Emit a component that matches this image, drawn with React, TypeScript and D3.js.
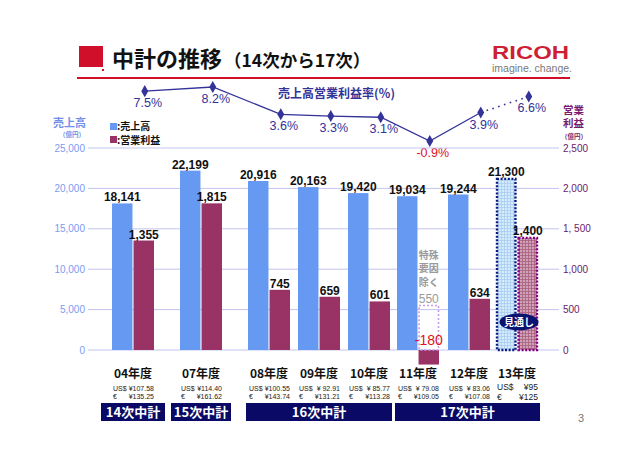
import React from "react";
import * as d3 from "d3";

const categories = ["04年度", "07年度", "08年度", "09年度", "10年度", "11年度", "12年度", "13年度"];
const sales = [18141, 22199, 20916, 20163, 19420, 19034, 19244, 21300];
const profit = [1355, 1815, 745, 659, 601, -180, 634, 1400];
const margin = [7.5, 8.2, 3.6, 3.3, 3.1, -0.9, 3.9, 6.6];
const usdRates = ["¥107.58", "¥114.40", "¥100.55", "¥ 92.91", "¥ 85.77", "¥ 79.08", "¥ 83.06", "¥95"];
const eurRates = ["¥135.25", "¥161.62", "¥143.74", "¥131.21", "¥113.28", "¥109.05", "¥107.08", "¥125"];
const forecast = [false, false, false, false, false, false, false, true];
const specialExcluded = [null, null, null, null, null, 550, null, null];
const specialNote = ["特殊", "要因", "除く"];
const leftTicks = [0, 5000, 10000, 15000, 20000, 25000];
const leftTickLabels = ["0", "5,000", "10,000", "15,000", "20,000", "25,000"];
const rightTicks = [0, 500, 1000, 1500, 2000, 2500];
const rightTickLabels = ["0", "500", "1,000", "1, 500", "2,000", "2,500"];
const periods = [
  { label: "14次中計", from: 0, to: 0 },
  { label: "15次中計", from: 1, to: 1 },
  { label: "16次中計", from: 2, to: 4 },
  { label: "17次中計", from: 5, to: 7 },
];
// layout slot of each category group (non-uniform spacing)
const slots = [0, 1.36, 2.72, 3.72, 4.72, 5.7, 6.72, 7.68];
const periodPads = [11, 9, 2, 2];

const FONT = "'Noto Sans CJK JP', 'Noto Sans', sans-serif";
const NUMFONT = "'Liberation Sans', Arial, sans-serif";

export default function App() {
  const xSlot = d3.scaleLinear().domain([0, 1]).range([112, 162]);
  const inner = d3.scaleBand<string>().domain(["sales", "profit"]).range([0, 42]).paddingInner(0.05);
  const bw = inner.bandwidth();
  const ySales = d3.scaleLinear().domain([0, 25000]).range([350, 148]);
  const yProfit = d3.scaleLinear().domain([0, 2500]).range([350, 148]);
  const yPct = d3.scaleLinear().domain([-0.9, 8.2]).range([141, 87]);

  const gx = (i: number) => xSlot(slots[i]);
  const gc = (i: number) => gx(i) + 21;
  const px = (i: number) => gx(i) + (inner("profit") as number) + bw / 2 + 1;

  const diamond = d3.symbol().type(d3.symbolDiamond).size(42)()!;
  const lineSolid = d3
    .line<number>()
    .x((_, i) => px(i))
    .y((d) => yPct(d));
  const solidData = margin.slice(0, 7);
  const dottedPts = [6, 7];

  const salesColor = "#6699f2";
  const profitColor = "#993366";
  const navy = "#333399";

  return (
    <svg width={640} height={452} style={{ position: "absolute", left: 0, top: 0, background: "#fff" }}>
      <defs>
        <pattern id="gridBlue" width="3" height="3" patternUnits="userSpaceOnUse">
          <rect width="3" height="3" fill="#d4eaff" />
          <path d="M0 0.5H3M0.5 0V3" stroke="#a9cdee" strokeWidth="0.8" />
        </pattern>
        <pattern id="gridPink" width="3" height="3" patternUnits="userSpaceOnUse">
          <rect width="3" height="3" fill="#cfa0b6" />
          <path d="M0 0.5H3M0.5 0V3" stroke="#a8607f" strokeWidth="0.8" />
        </pattern>
      </defs>

      {/* Title */}
      <rect x={79} y={46} width={24} height={21} fill="#d0102b" />
      <rect x={102} y={69} width={2} height={2} fill="#d0102b" />
      <text x={112} y={67} fontFamily={FONT} fontWeight={700} fontSize={22} fill="#111">
        中計の推移
        <tspan fontSize={17.5} dx={2}>（14次から17次）</tspan>
      </text>
      <text x={492} y={58.5} fontFamily={NUMFONT} fontWeight={700} fontSize={18.5} fill="#cf1f35" textLength={77} lengthAdjust="spacingAndGlyphs">
        RICOH
      </text>
      <text x={492} y={71.5} fontFamily={NUMFONT} fontSize={10.5} fill="#7a7a7a" textLength={80} lengthAdjust="spacingAndGlyphs">
        imagine. change.
      </text>
      <rect x={77} y={77} width={493} height={2} fill="#d0102b" />

      {/* margin line */}
      <text x={278} y={98} fontFamily={FONT} fontWeight={700} fontSize={12} fill={navy}>
        売上高営業利益率(％)
      </text>
      <path d={lineSolid(solidData) || ""} fill="none" stroke={navy} strokeWidth={1.3} />
      <line
        x1={px(dottedPts[0])}
        y1={yPct(margin[dottedPts[0]])}
        x2={px(dottedPts[1])}
        y2={yPct(margin[dottedPts[1]])}
        stroke={navy}
        strokeWidth={1.6}
        strokeDasharray="1.6,4.5"
      />
      {margin.map((m, i) => (
        <g key={"m" + i}>
          <path d={diamond} transform={`translate(${px(i)},${yPct(m)})`} fill={navy} />
          <text
            x={px(i) + 3}
            y={yPct(m) + 16}
            textAnchor="middle"
            fontFamily={NUMFONT}
            fontSize={12.5}
            fill={m < 0 ? "#e01020" : navy}
          >
            {(m < 0 ? "-" + Math.abs(m).toFixed(1) : m.toFixed(1)) + "%"}
          </text>
        </g>
      ))}

      {/* axis titles */}
      <text x={53} y={127} fontFamily={FONT} fontWeight={700} fontSize={11} fill="#6f8fe8">売上高</text>
      <text x={85} y={137} textAnchor="end" fontFamily={FONT} fontWeight={700} fontSize={6.5} fill="#6f8fe8">（億円）</text>
      <text x={563} y={113.5} fontFamily={FONT} fontWeight={700} fontSize={10.5} fill="#7a1a6a">
        <tspan x={563}>営業</tspan>
        <tspan x={563} dy={13.5}>利益</tspan>
      </text>
      <text x={561} y={139} fontFamily={FONT} fontWeight={700} fontSize={6.5} fill="#7a1a6a">（億円）</text>

      {/* legend */}
      <rect x={110} y={123} width={7} height={7} fill={salesColor} />
      <text x={117} y={130} fontFamily={FONT} fontWeight={700} fontSize={10} fill="#111">:売上高</text>
      <rect x={110} y={136} width={7} height={7} fill={profitColor} />
      <text x={117} y={143.5} fontFamily={FONT} fontWeight={700} fontSize={10} fill="#111">:営業利益</text>

      {/* grid */}
      {leftTicks.map((t, i) => (
        <g key={"g" + i}>
          <line x1={88} x2={559} y1={ySales(t)} y2={ySales(t)} stroke="#c4c4ef" strokeWidth={1} />
          <text x={85} y={ySales(t) + 3.5} textAnchor="end" fontFamily={NUMFONT} fontSize={10} fill="#7b9cf0">
            {leftTickLabels[i]}
          </text>
        </g>
      ))}
      {rightTicks.map((t, i) => (
        <text key={"r" + i} x={563} y={yProfit(t) + 3.5} fontFamily={NUMFONT} fontSize={10} fill="#6a1b6a">
          {rightTickLabels[i]}
        </text>
      ))}

      {/* bars */}
      {categories.map((c, i) => {
        const xs = gx(i) + (inner("sales") as number);
        const xp = gx(i) + (inner("profit") as number);
        const p = profit[i];
        const special = specialExcluded[i];
        const rf = forecast[i] ? 8.5 : 7;
        return (
          <g key={"b" + i}>
            {forecast[i] ? (
              <>
                <rect x={xs + 1} y={ySales(sales[i]) + 1} width={bw - 2} height={ySales(0) - ySales(sales[i]) - 1} fill="url(#gridBlue)" stroke="#0a1a80" strokeWidth={2.4} strokeDasharray="2,1.6" />
                <rect x={xp + 1} y={yProfit(p) + 1} width={bw - 2} height={yProfit(0) - yProfit(p) - 1} fill="url(#gridPink)" stroke="#800080" strokeWidth={2.4} strokeDasharray="2,1.6" />
              </>
            ) : (
              <>
                <rect x={xs} y={ySales(sales[i])} width={bw} height={ySales(0) - ySales(sales[i])} fill={salesColor} />
                <rect x={xp} y={Math.min(yProfit(p), yProfit(0))} width={bw} height={Math.abs(yProfit(p) - yProfit(0))} fill={profitColor} />
              </>
            )}
            <text x={xs + bw / 2} y={ySales(sales[i]) - 2} textAnchor="middle" fontFamily={NUMFONT} fontWeight={700} fontSize={12} fill="#111">
              {d3.format(",")(sales[i])}
            </text>
            {special !== null ? (
              <>
                <rect x={xp + 0.5} y={yProfit(special)} width={bw - 1} height={yProfit(0) - yProfit(special)} fill="none" stroke="#c79bf0" strokeWidth={1.6} strokeDasharray="2,2" />
                <text x={xp + bw / 2} y={yProfit(special) - 3} textAnchor="middle" fontFamily={NUMFONT} fontSize={12} fill="#9a9a9a">
                  {d3.format(",")(special)}
                </text>
                <text x={xp + bw / 2} y={258.5} textAnchor="middle" fontFamily={FONT} fontWeight={700} fontSize={10} fill="#9a9a9a">
                  {specialNote.map((s, k) => (
                    <tspan key={k} x={xp + bw / 2} dy={k === 0 ? 0 : 13.6}>
                      {s}
                    </tspan>
                  ))}
                </text>
                <text x={xp + bw / 2} y={yProfit(0) - 5} textAnchor="middle" fontFamily={NUMFONT} fontSize={14} fill="#e01020">
                  {"-" + d3.format(",")(Math.abs(p))}
                </text>
              </>
            ) : (
              <text x={xp + bw / 2} y={yProfit(p) - 2} textAnchor="middle" fontFamily={NUMFONT} fontWeight={700} fontSize={12} fill="#111">
                {d3.format(",")(p)}
              </text>
            )}
            {forecast[i] && (
              <g>
                <ellipse cx={gc(i) + 2} cy={322} rx={19.5} ry={8.5} fill="#0a1470" />
                <text x={gc(i) + 2} y={326} textAnchor="middle" fontFamily={FONT} fontWeight={700} fontSize={10} fill="#fff">見通し</text>
              </g>
            )}
            {/* category label */}
            <text x={gc(i)} y={378} textAnchor="middle" fontFamily={FONT} fontWeight={700} fontSize={12} fill="#111">
              {c}
            </text>
            <text x={gc(i) - 20} y={forecast[i] ? 390 : 390.5} fontFamily={NUMFONT} fontSize={rf} fill="#222">US$</text>
            <text x={gc(i) + 21} y={forecast[i] ? 390 : 390.5} textAnchor="end" fontFamily={NUMFONT} fontSize={rf} fill="#222">{usdRates[i]}</text>
            <text x={gc(i) - 20} y={forecast[i] ? 399.5 : 398.5} fontFamily={NUMFONT} fontSize={rf} fill="#222">€</text>
            <text x={gc(i) + 21} y={forecast[i] ? 399.5 : 398.5} textAnchor="end" fontFamily={NUMFONT} fontSize={rf} fill="#222">{eurRates[i]}</text>
          </g>
        );
      })}

      {/* period boxes */}
      {periods.map((p, k) => {
        const x0 = gx(p.from) - periodPads[k];
        const x1 = gx(p.to) + 42 + periodPads[k];
        return (
          <g key={"p" + k}>
            <rect x={x0} y={403} width={x1 - x0} height={18} fill="#0a0a66" />
            <text x={(x0 + x1) / 2} y={417} textAnchor="middle" fontFamily={FONT} fontWeight={700} fontSize={13} fill="#fff">
              {p.label}
            </text>
          </g>
        );
      })}

      <text x={578} y={422} fontFamily={NUMFONT} fontSize={11} fill="#777">3</text>
    </svg>
  );
}
